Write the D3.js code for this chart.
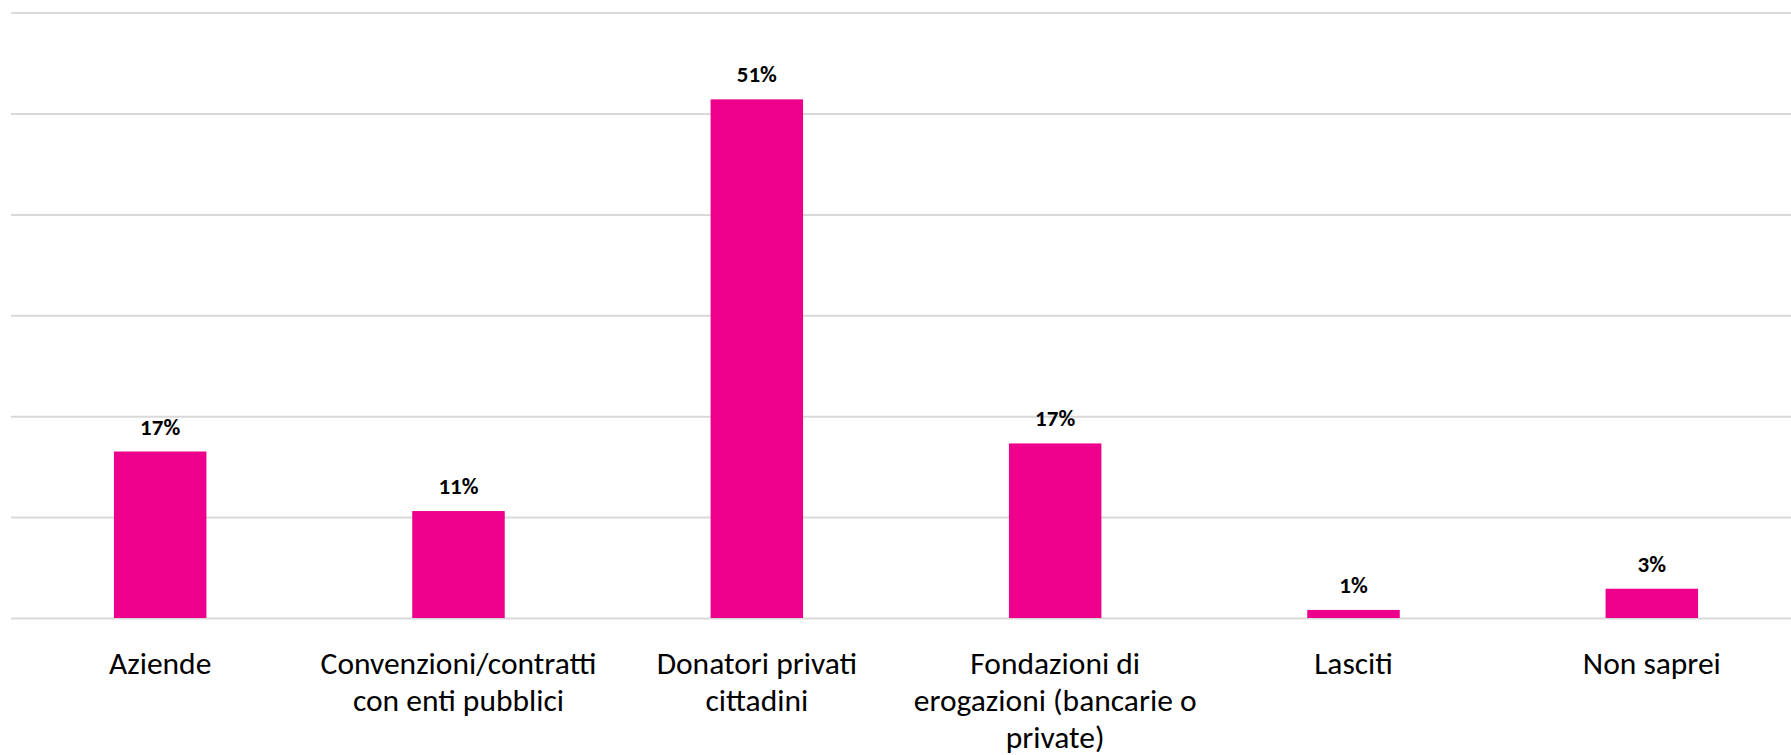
<!DOCTYPE html>
<html>
<head>
<meta charset="utf-8">
<script src="https://cdn.jsdelivr.net/npm/d3@7"></script>
<style>
    html, body { margin: 0; padding: 0; background: #fff; }
    svg { display: block; }
</style>
</head>
<body>
<div id="chart"></div>
<script>
var categories = [
    "Aziende",
    "Convenzioni/contratti\ncon enti pubblici",
    "Donatori privati\ncittadini",
    "Fondazioni di\nerogazioni (bancarie o\nprivate)",
    "Lasciti",
    "Non saprei"
];
var values = [16.5, 10.6, 51.4, 17.3, 0.8, 2.9];
var gridTicks = [0, 10, 20, 30, 40, 50, 60];

var width = 1791, height = 755;
var margin = {top: 12.6, right: 0, bottom: 137, left: 11};
var font = "Carlito, Calibri, Lato, 'Open Sans', sans-serif";

var data = categories.map(function(c, i) {
    return {name: c, value: values[i]};
});

var svg = d3.select("#chart")
    .append("svg")
        .attr("width", width)
        .attr("height", height);

// the category bands run a little past the right edge, like the original
var x = d3.scaleBand()
    .domain(categories)
    .range([margin.left, 1801])
    .paddingInner(0.69)
    .paddingOuter(0.345);

var y = d3.scaleLinear()
    .domain([0, 60])
    .range([height - margin.bottom, margin.top]);

// gridlines
svg.append("g")
    .attr("transform", "translate(" + margin.left + ",0)")
    .call(d3.axisLeft(y)
        .tickValues(gridTicks)
        .tickSize(-(width - margin.left - margin.right))
        .tickFormat(""))
    .call(function(g) { g.select(".domain").remove(); })
    .selectAll(".tick line")
        .attr("stroke", "#d9d9d9")
        .attr("stroke-width", 2);

svg.append("g")
    .selectAll("rect")
    .data(data)
    .enter()
    .append("rect")
        .attr("x", function(d) { return x(d.name); })
        .attr("y", function(d) { return y(d.value); })
        .attr("width", x.bandwidth())
        .attr("height", function(d) { return y(0) - y(d.value); })
        .attr("fill", "#ec008c");

svg.append("g")
    .selectAll("text")
    .data(data)
    .enter()
    .append("text")
        .attr("x", function(d) { return x(d.name) + x.bandwidth() / 2; })
        .attr("y", function(d) { return y(d.value) - 17; })
        .attr("text-anchor", "middle")
        .style("font-family", font)
        .style("font-weight", "bold")
        .style("font-size", "23px")
        .attr("fill", "#000")
        .text(function(d) { return Math.round(d.value) + "%"; });

var labels = svg.append("g")
    .selectAll("text")
    .data(data)
    .enter()
    .append("text")
        .attr("x", function(d) { return x(d.name) + x.bandwidth() / 2; })
        .attr("y", y(0) + 56)
        .attr("text-anchor", "middle")
        .style("font-family", font)
        .style("font-size", "31.5px")
        .attr("fill", "#000");

labels.selectAll("tspan")
    .data(function(d) { return d.name.split("\n"); })
    .enter()
    .append("tspan")
        .attr("x", function() { return d3.select(this.parentNode).attr("x"); })
        .attr("dy", function(d, i) { return i === 0 ? 0 : 37; })
        .text(function(d) { return d; });
</script>
</body>
</html>
